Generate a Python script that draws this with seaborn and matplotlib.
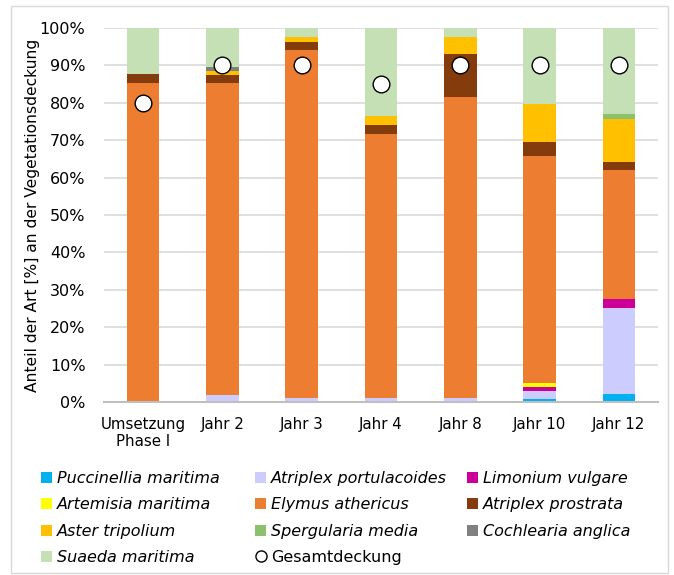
import numpy as np
import pandas as pd
import matplotlib
matplotlib.use("Agg")
import matplotlib.pyplot as plt
from matplotlib.patches import Rectangle, Patch
from matplotlib.lines import Line2D
import seaborn as sns

categories = ["Umsetzung\nPhase I", "Jahr 2", "Jahr 3", "Jahr 4", "Jahr 8", "Jahr 10", "Jahr 12"]

puccinellia = [0, 0, 0, 0, 0, 0.8, 2.1]
atriplex_portulacoides = [0, 2.0, 1.1, 1.2, 1.0, 2.1, 23.1]
limonium = [0, 0, 0, 0, 0, 1.1, 2.3]
artemisia = [0, 0, 0, 0, 0, 1.1, 0]
elymus = [85.4, 83.4, 93.0, 70.5, 80.6, 60.6, 34.5]
atriplex_prostrata = [2.3, 2.0, 2.2, 2.4, 11.4, 3.8, 2.3]
aster = [0, 1.1, 1.4, 2.3, 4.7, 10.3, 11.4]
spergularia = [0, 0, 0, 0, 0, 0, 1.2]
cochlearia = [0, 1.0, 0, 0, 0, 0, 0]
suaeda = [12.3, 10.5, 2.3, 23.6, 2.3, 20.2, 23.1]
gesamtdeckung = [80, 90, 90, 85, 90, 90, 90]

species = ["Puccinellia maritima", "Atriplex portulacoides", "Limonium vulgare",
           "Artemisia maritima", "Elymus athericus", "Atriplex prostrata",
           "Aster tripolium", "Spergularia media", "Cochlearia anglica",
           "Suaeda maritima"]
series = [puccinellia, atriplex_portulacoides, limonium, artemisia, elymus,
          atriplex_prostrata, aster, spergularia, cochlearia, suaeda]
colors = ["#00B0F0", "#CCCCFF", "#CC0099", "#FFFF00", "#ED7D31", "#843C0C",
          "#FFC000", "#8CC16C", "#808080", "#C5E0B4"]

sns.set_theme(style="white")
plt.rcParams["font.family"] = ["DejaVu Sans"]
plt.rcParams["text.color"] = "black"
plt.rcParams["xtick.color"] = "black"
plt.rcParams["ytick.color"] = "black"
plt.rcParams["axes.labelcolor"] = "black"
FS = 11.5

fig = plt.figure(figsize=(6.74, 5.75), dpi=100)
ax = fig.add_axes([103.5 / 674, 1 - 402 / 575, 555 / 674, 374 / 575])

bottom = np.zeros(len(categories))
for name, vals, col in zip(species, series, colors):
    df = pd.DataFrame({"cat": categories, "val": vals})
    sns.barplot(data=df, x="cat", y="val", bottom=bottom, color=col,
                width=0.41, ax=ax, saturation=1, edgecolor="none", linewidth=0,
                zorder=3)
    bottom = bottom + np.array(vals)

gdf = pd.DataFrame({"cat": categories, "val": gesamtdeckung})
sns.pointplot(data=gdf, x="cat", y="val", linestyle="none", marker="o",
              color="white", markeredgecolor="black", markeredgewidth=1.0,
              markersize=12, ax=ax, zorder=5)

ax.set_xlim(-0.5, len(categories) - 0.5)
ax.set_ylim(0, 100)
ax.set_yticks(np.arange(0, 101, 10))
ax.set_yticklabels([f"{v}%" for v in range(0, 101, 10)], fontsize=FS)
ax.set_xticks(range(len(categories)))
ax.set_xticklabels(categories, fontsize=10.8, linespacing=1.15)
ax.set_xlabel("")
ax.set_ylabel("Anteil der Art [%] an der Vegetationsdeckung", fontsize=FS - 0.3, labelpad=0)
ax.tick_params(axis="y", length=0, pad=13)
ax.tick_params(axis="x", length=0, pad=11)
ax.grid(axis="y", color="#D9D9D9", linewidth=1.2, zorder=0)
ax.set_axisbelow(True)
for s in ["top", "right", "left"]:
    ax.spines[s].set_visible(False)
ax.spines["bottom"].set_color("#BFBFBF")
ax.spines["bottom"].set_linewidth(1.5)
ax.spines["bottom"].set_zorder(4)

# legend: three columns, each its own legend at fixed x
handles = [Patch(facecolor=c, edgecolor="none") for c in colors]
labels = list(species)
handles.append(Line2D([], [], linestyle="none", marker="o", markerfacecolor="white",
                      markeredgecolor="black", markersize=8, markeredgewidth=1.0))
labels.append("Gesamtdeckung")
columns = [[0, 3, 6, 9], [1, 4, 7, 10], [2, 5, 8]]
col_x = [41, 255, 467]
for idx, x0 in zip(columns, col_x):
    leg = fig.legend([handles[i] for i in idx], [labels[i] for i in idx],
                     ncol=1, loc="upper left", bbox_to_anchor=(x0 / 674, 1 - 471 / 575),
                     frameon=False, fontsize=FS, handlelength=0.7, handleheight=0.7,
                     handletextpad=0.3, labelspacing=0.71,
                     borderaxespad=0, borderpad=0)
    for t in leg.get_texts():
        if t.get_text() != "Gesamtdeckung":
            t.set_style("italic")

fig.patches.append(Rectangle((11 / 674, 1 - 573 / 575), 657 / 674, 567 / 575,
                             transform=fig.transFigure, fill=False,
                             edgecolor="#D9D9D9", linewidth=1.0))

fig.savefig("out.png", dpi=100)
